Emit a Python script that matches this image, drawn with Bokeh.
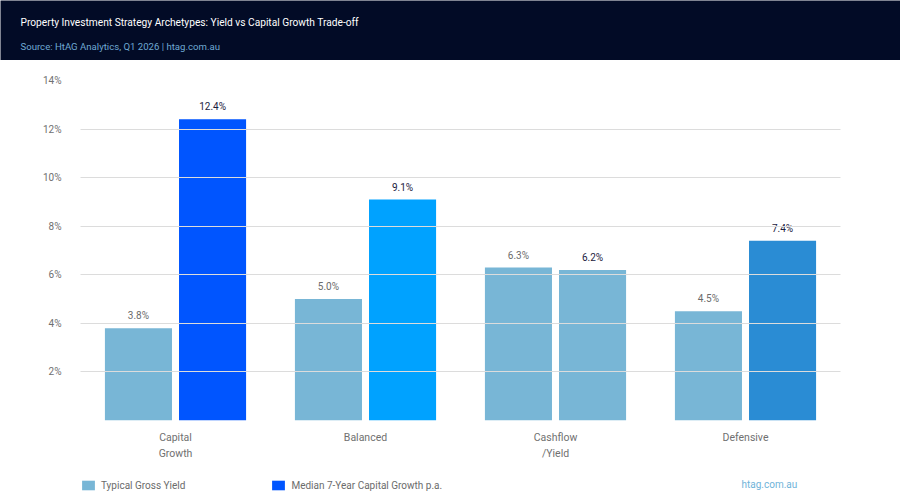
from bokeh.plotting import figure
from bokeh.models import (ColumnDataSource, FactorRange, Range1d, FixedTicker,
                          PrintfTickFormatter, Legend, LegendItem, Label)
from bokeh.transform import dodge
from bokeh.layouts import column
from bokeh.embed import file_html
from bokeh.resources import INLINE
from bokeh.core.properties import value

# ---- data -------------------------------------------------------------
categories = ["Capital\nGrowth", "Balanced", "Cashflow\n/Yield", "Defensive"]
gross_yield = [3.8, 5.0, 6.3, 4.5]          # Typical Gross Yield (%)
capital_growth = [12.4, 9.1, 6.2, 7.4]      # Median 7-Year Capital Growth p.a. (%)
y_ticks = [2, 4, 6, 8, 10, 12, 14]

# ---- styling ------------------------------------------------------------
FONT = "Roboto"
NAVY = "#020b26"
YIELD_COLOR = "#78b6d6"
growth_colors = ["#0055ff", "#00a2ff", "#78b6d6", "#2a8cd4"]
W = 900
HEADER_H, MAIN_H, FOOTER_H = 60, 410, 30

src = ColumnDataSource(dict(
    cat=categories,
    gy=gross_yield,
    cg=capital_growth,
    gy_label=[f"{v:.1f}%" for v in gross_yield],
    cg_label=[f"{v:.1f}%" for v in capital_growth],
    cg_color=growth_colors,
))


def bare(height, x_range, y_range):
    f = figure(width=W, height=height, x_range=x_range, y_range=y_range,
               x_axis_type=None, y_axis_type=None, output_backend="svg",
               toolbar_location=None, min_border=0)
    f.grid.visible = False
    f.outline_line_color = None
    f.frame_align = False
    return f


# ---- header band ----------------------------------------------------------
header = bare(HEADER_H, Range1d(0, 1), Range1d(0, 1))
header.background_fill_color = NAVY
header.border_fill_color = NAVY
header.add_layout(Label(x=20, y=HEADER_H - 22, x_units="screen", y_units="screen",
                        text="Property Investment Strategy Archetypes: Yield vs Capital Growth Trade-off",
                        text_font=FONT, text_font_size="10.2px", text_color="#ffffff",
                        text_baseline="middle"))
header.add_layout(Label(x=20, y=HEADER_H - 46, x_units="screen", y_units="screen",
                        text="Source: HtAG Analytics, Q1 2026 | htag.com.au",
                        text_font=FONT, text_font_size="9.6px", text_color="#6fa9d2",
                        text_baseline="middle"))

# ---- main chart ---------------------------------------------------------------
p = figure(width=W, height=MAIN_H, x_range=FactorRange(*categories, range_padding=0),
           y_range=Range1d(0, 14), output_backend="svg", toolbar_location=None,
           min_border_left=80, min_border_right=60, min_border_top=20,
           min_border_bottom=50)
p.frame_align = False
p.outline_line_color = None
p.background_fill_color = "#ffffff"
p.border_fill_color = "#ffffff"

BAR_W = 0.353
OFF = 0.195
p.vbar(x=dodge("cat", -OFF, range=p.x_range), top="gy", width=BAR_W,
       source=src, fill_color=YIELD_COLOR, line_color=None)
p.vbar(x=dodge("cat", OFF, range=p.x_range), top="cg", width=BAR_W,
       source=src, fill_color="cg_color", line_color=None)

p.text(x=dodge("cat", -OFF, range=p.x_range), y="gy", text="gy_label", source=src,
       text_font=value(FONT), text_font_size="10px", text_color="#6b6b6b",
       text_align="center", text_baseline="bottom", y_offset=-7)
p.text(x=dodge("cat", OFF, range=p.x_range), y="cg", text="cg_label", source=src,
       text_font=value(FONT), text_font_size="10px", text_color="#1b2140",
       text_align="center", text_baseline="bottom", y_offset=-7)

p.yaxis.ticker = FixedTicker(ticks=y_ticks)
p.yaxis.formatter = PrintfTickFormatter(format="%d%%")
for ax in (p.xaxis[0], p.yaxis[0]):
    ax.axis_line_color = None
    ax.major_tick_line_color = None
    ax.minor_tick_line_color = None
    ax.major_label_text_font = FONT
    ax.major_label_text_color = "#707070"
p.yaxis.major_label_text_font_size = "10px"
p.xaxis.major_label_text_font_size = "10.5px"
p.xaxis.major_label_text_line_height = 1.3
p.yaxis.major_label_standoff = 13
p.xaxis.major_label_standoff = 4

p.xgrid.visible = False
p.ygrid.ticker = FixedTicker(ticks=y_ticks)
p.ygrid.grid_line_color = "#dcdcdc"
p.ygrid.grid_line_width = 1
p.ygrid.level = "overlay"

# ---- footer: legend + site name ---------------------------------------------
# the footer's y window sits far above the data, so its bars only feed the legend keys
footer = bare(FOOTER_H, FactorRange(*categories), Range1d(100, 101))
footer.background_fill_color = "#ffffff"
footer.border_fill_color = "#ffffff"
key_yield = footer.vbar(x="cat", top="gy", width=0.5, source=src,
                        fill_color=YIELD_COLOR, line_color=None)
key_growth = footer.vbar(x="cat", top="cg", width=0.5, source=src,
                         fill_color="cg_color", line_color=None)

legend = Legend(items=[
    LegendItem(label="Typical Gross Yield", renderers=[key_yield], index=0),
    LegendItem(label="Median 7-Year Capital Growth p.a.", renderers=[key_growth], index=0),
], orientation="horizontal", location=(80, 9))
legend.label_text_font = FONT
legend.label_text_font_size = "10px"
legend.label_text_color = "#6b6b6b"
legend.glyph_width = 16
legend.glyph_height = 12
legend.label_standoff = 5
legend.spacing = 85
legend.padding = 0
legend.margin = 0
legend.border_line_color = None
legend.background_fill_alpha = 0
footer.add_layout(legend)

footer.add_layout(Label(x=741, y=FOOTER_H - 14, x_units="screen", y_units="screen",
                        text="htag.com.au", text_font=FONT, text_font_size="10px",
                        text_color="#6fb3d9", text_baseline="middle"))

layout = column(header, p, footer, spacing=0)
open("out.html", "w").write(file_html(layout, INLINE))
